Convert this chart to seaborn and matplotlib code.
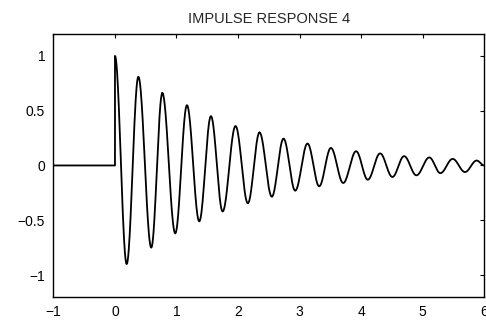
import numpy as np
import matplotlib
matplotlib.use("Agg")
import matplotlib.pyplot as plt
import seaborn as sns

# extrema (time, value), in order
peak_t = [0.00, 0.38, 0.77, 1.17, 1.56, 1.96, 2.35, 2.74, 3.13, 3.51, 3.92, 4.31, 4.70, 5.11, 5.49, 5.88]
peak_v = [1.00, 0.81, 0.66, 0.55, 0.45, 0.36, 0.30, 0.245, 0.20, 0.16, 0.13, 0.11, 0.085, 0.073, 0.06, 0.045]
trough_t = [0.19, 0.59, 0.98, 1.37, 1.75, 2.16, 2.55, 2.93, 3.32, 3.71, 4.11, 4.51, 4.90, 5.29, 5.69]
trough_v = [-0.90, -0.75, -0.62, -0.51, -0.42, -0.345, -0.285, -0.23, -0.19, -0.16, -0.13, -0.105, -0.09, -0.07, -0.06]
end_t, end_v = 6.0, 0.0

x_ticks = [-1, 0, 1, 2, 3, 4, 5, 6]
y_ticks = [-1, -0.5, 0, 0.5, 1]
y_tick_labels = ["\u22121", "\u22120.5", "0", "0.5", "1"]
x_tick_labels = ["\u22121", "0", "1", "2", "3", "4", "5", "6"]

# zero before the impulse, then a smooth half-wave between each pair of extrema
ext_t, ext_v = [], []
for i in range(len(peak_t)):
    ext_t.append(peak_t[i])
    ext_v.append(peak_v[i])
    if i < len(trough_t):
        ext_t.append(trough_t[i])
        ext_v.append(trough_v[i])
ext_t.append(end_t)
ext_v.append(end_v)

t = [-1.0, 0.0]
y = [0.0, 0.0]
for (t0, v0), (t1, v1) in zip(zip(ext_t[:-1], ext_v[:-1]), zip(ext_t[1:], ext_v[1:])):
    s = np.linspace(0, 1, 40)
    t.extend(t0 + (t1 - t0) * s)
    y.extend(v0 + (v1 - v0) * (1 - np.cos(np.pi * s)) / 2)

sns.set_theme(style="white")
plt.rcParams["font.family"] = ["Liberation Sans", "DejaVu Sans"]

fig = plt.figure(figsize=(4.86, 3.27), dpi=100)
ax = fig.add_axes([0.110, 0.092, 0.886, 0.804])
sns.lineplot(x=t, y=y, ax=ax, color="black", linewidth=1.3, sort=False, estimator=None)

ax.set_xlim(-1, 6)
ax.set_ylim(-1.2, 1.2)
ax.set_xticks(x_ticks)
ax.set_xticklabels(x_tick_labels)
ax.set_yticks(y_ticks)
ax.set_yticklabels(y_tick_labels)
ax.tick_params(direction="in", length=3, width=0.8, top=True, right=True,
               labelsize=10, colors="black", pad=6)
for sp in ax.spines.values():
    sp.set_color("black")
    sp.set_linewidth(1.0)
ax.set_title("IMPULSE RESPONSE 4", fontsize=10.5, pad=8)

fig.savefig("out.png", dpi=100)
